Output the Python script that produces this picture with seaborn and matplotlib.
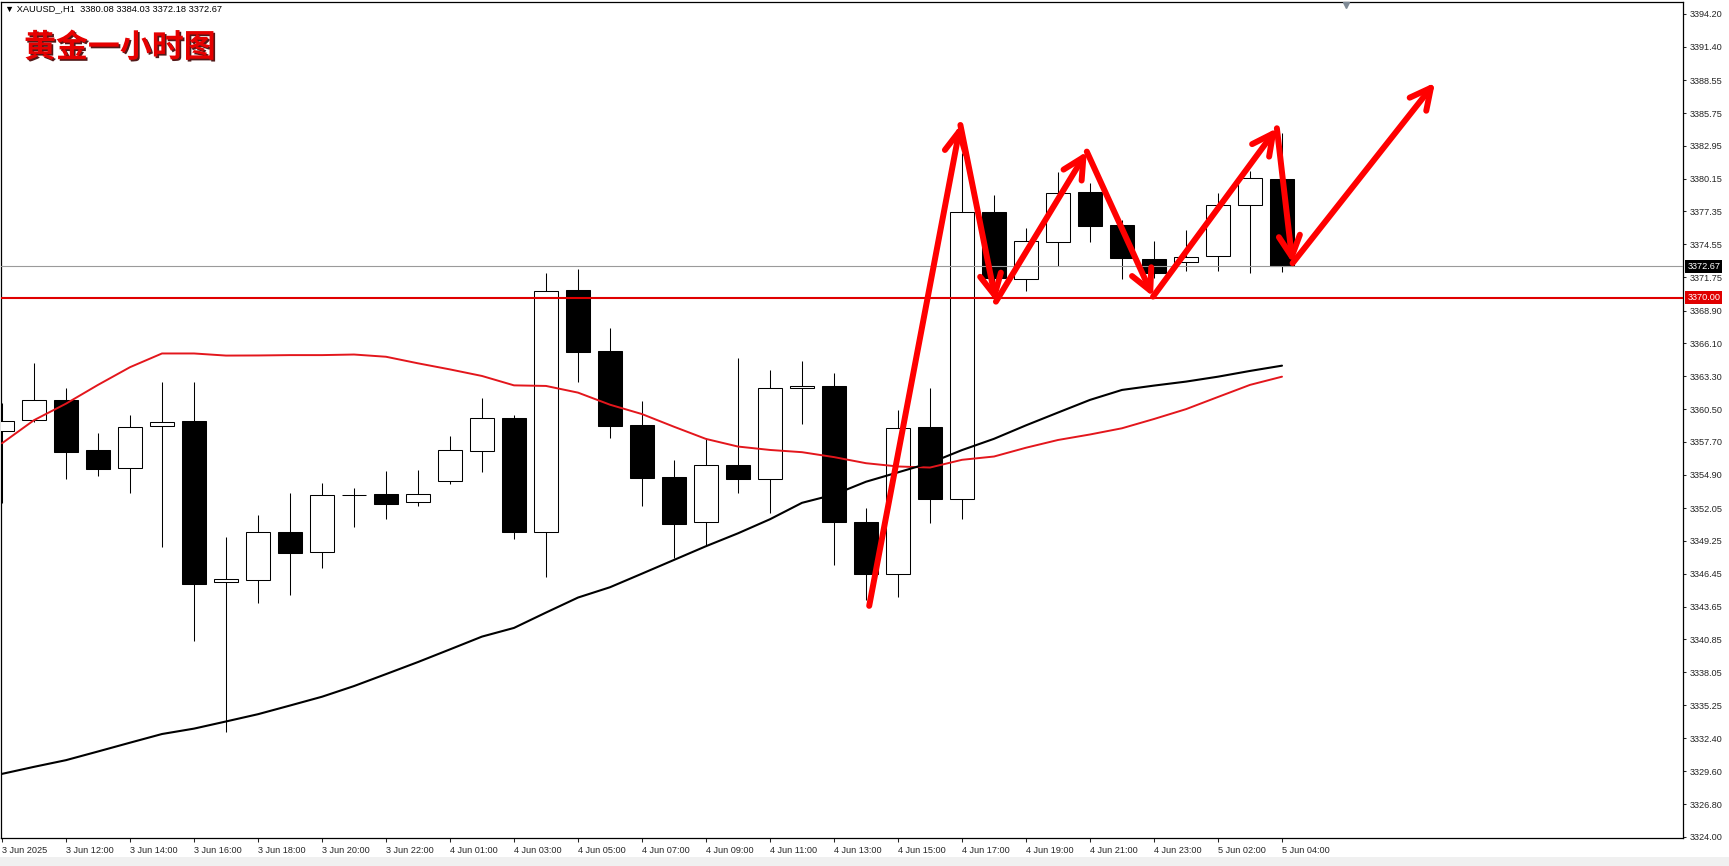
import numpy as np
import pandas as pd
import matplotlib
matplotlib.use('Agg')
import matplotlib.pyplot as plt
import matplotlib.patheffects as pe
import matplotlib.transforms as mtransforms
from matplotlib.patches import Rectangle
import seaborn as sns

# XAUUSD H1, 3 Jun 10:00 -> 5 Jun 04:00 (one bar per hour, 00:00 missing)
opens = [3358.63, 3359.54, 3361.25, 3357.01, 3355.45, 3359.03, 3359.48, 3345.73, 3345.90, 3350.00,
         3348.29, 3353.15, 3353.23, 3352.55, 3354.34, 3356.90, 3359.72, 3349.99, 3370.66, 3365.46,
         3359.14, 3354.68, 3350.84, 3355.70, 3354.56, 3362.27, 3362.47, 3350.84, 3346.41, 3359.00,
         3352.80, 3377.28, 3371.57, 3374.73, 3379.02, 3376.17, 3373.28, 3373.02, 3373.56, 3377.88,
         3380.08]
highs = [3361.00, 3364.40, 3362.27, 3358.43, 3359.97, 3362.81, 3362.81, 3349.62, 3351.47, 3353.30,
         3354.17, 3353.80, 3355.20, 3355.30, 3358.18, 3361.42, 3359.97, 3372.08, 3372.45, 3367.40,
         3361.19, 3356.16, 3358.01, 3364.83, 3363.83, 3364.60, 3363.55, 3352.04, 3360.42, 3362.27,
         3382.30, 3378.76, 3375.97, 3380.75, 3379.80, 3376.60, 3374.84, 3375.80, 3378.91, 3380.80,
         3384.03]
lows = [3352.47, 3359.40, 3354.56, 3354.82, 3353.37, 3348.76, 3340.75, 3332.98, 3343.99, 3344.60,
        3346.92, 3350.40, 3351.15, 3352.26, 3354.14, 3355.10, 3349.40, 3346.15, 3362.84, 3358.06,
        3352.20, 3347.80, 3348.90, 3353.37, 3351.60, 3359.25, 3347.20, 3344.20, 3344.45, 3350.80,
        3351.10, 3369.55, 3370.60, 3372.73, 3374.78, 3371.57, 3371.66, 3372.30, 3372.30, 3372.14,
        3372.18]
closes = [3359.51, 3361.25, 3356.87, 3355.42, 3358.95, 3359.37, 3345.61, 3345.98, 3350.00, 3348.25,
          3353.15, 3353.15, 3352.43, 3353.23, 3356.98, 3359.72, 3350.04, 3370.55, 3365.40, 3359.09,
          3354.65, 3350.73, 3355.70, 3354.56, 3362.27, 3362.47, 3350.84, 3346.41, 3358.86, 3352.80,
          3377.34, 3371.70, 3374.81, 3378.91, 3376.14, 3373.36, 3372.14, 3373.47, 3377.88, 3380.18,
          3372.67]

# moving averages
ma_red = [3357.58, 3359.55, 3360.96, 3362.56, 3364.07, 3365.24, 3365.24, 3365.06, 3365.07, 3365.10,
          3365.10, 3365.15, 3364.96, 3364.40, 3363.88, 3363.32, 3362.52, 3362.47, 3361.90, 3360.87,
          3360.07, 3358.99, 3357.95, 3357.30, 3357.01, 3356.82, 3356.40, 3355.88, 3355.60, 3355.51,
          3356.17, 3356.45, 3357.20, 3357.86, 3358.33, 3358.86, 3359.65, 3360.49, 3361.53, 3362.56,
          3363.26]
ma_black = [3329.38, 3329.98, 3330.55, 3331.29, 3332.04, 3332.78, 3333.24, 3333.85, 3334.47, 3335.21,
            3335.96, 3336.87, 3337.89, 3338.92, 3340.00, 3341.09, 3341.83, 3343.14, 3344.42, 3345.30,
            3346.46, 3347.63, 3348.80, 3349.90, 3351.10, 3352.50, 3353.20, 3354.30, 3355.10, 3355.90,
            3357.00, 3357.96, 3359.11, 3360.20, 3361.28, 3362.13, 3362.50, 3362.84, 3363.26, 3363.75,
            3364.20]

tick_idx = [0, 2, 4, 6, 8, 10, 12, 14, 16, 18, 20, 22, 24, 26, 28, 30, 32, 34, 36, 38, 40]
tick_labels = ['3 Jun 2025', '3 Jun 12:00', '3 Jun 14:00', '3 Jun 16:00', '3 Jun 18:00', '3 Jun 20:00',
               '3 Jun 22:00', '4 Jun 01:00', '4 Jun 03:00', '4 Jun 05:00', '4 Jun 07:00', '4 Jun 09:00',
               '4 Jun 11:00', '4 Jun 13:00', '4 Jun 15:00', '4 Jun 17:00', '4 Jun 19:00', '4 Jun 21:00',
               '4 Jun 23:00', '5 Jun 02:00', '5 Jun 04:00']
price_ticks = [3394.20, 3391.40, 3388.55, 3385.75, 3382.95, 3380.15, 3377.35, 3374.55, 3371.75,
               3368.90, 3366.10, 3363.30, 3360.50, 3357.70, 3354.90, 3352.05, 3349.25, 3346.45,
               3343.65, 3340.85, 3338.05, 3335.25, 3332.40, 3329.60, 3326.80, 3324.00]

support_level = 3370.00
last_price = 3372.67
shift_bar = 42

# hand-drawn red arrow path (bar index, price)
arrow_x = [27.1, 29.95, 31.06, 33.9, 35.97, 39.84, 40.33, 44.78]
arrow_y = [3343.71, 3384.73, 3369.66, 3382.46, 3370.09, 3384.45, 3372.94, 3388.34]

df = pd.DataFrame({'open': opens, 'high': highs, 'low': lows, 'close': closes,
                   'ma_red': ma_red, 'ma_black': ma_black})
df['i'] = np.arange(len(df))
df['up'] = df['close'] >= df['open']

sns.set_style('white')
plt.rcParams['font.family'] = ['Liberation Sans', 'DejaVu Sans']

W, H = 1729, 866
fig = plt.figure(figsize=(W / 100, H / 100), dpi=100)
ax = fig.add_axes([1 / W, 1 - 838 / H, 1682 / W, 836 / H])

# wicks then bodies
ax.vlines(df['i'], df['low'], df['high'], color='black', linewidth=0.75, zorder=2)
body_lo = df[['open', 'close']].min(axis=1)
body_h = (df['close'] - df['open']).abs()
ax.bar(df['i'], body_h, bottom=body_lo, width=0.75,
       color=np.where(df['up'], 'white', 'black'), edgecolor='black', linewidth=0.75, zorder=3)

sns.lineplot(data=df, x='i', y='ma_red', color='#e3161c', linewidth=1.4, ax=ax, zorder=4)
sns.lineplot(data=df, x='i', y='ma_black', color='black', linewidth=1.5, ax=ax, zorder=4)

ax.axhline(last_price, color='#9a9a9a', linewidth=0.8, zorder=5)
ax.axhline(support_level, color='#e00000', linewidth=1.5, zorder=5)

for k in range(len(arrow_x) - 1):
    ax.annotate('', xy=(arrow_x[k + 1], arrow_y[k + 1]), xytext=(arrow_x[k], arrow_y[k]),
                arrowprops=dict(arrowstyle='->,head_length=0.75,head_width=0.38', color='#ff0000',
                                lw=4.3, mutation_scale=20, shrinkA=0, shrinkB=0,
                                capstyle='round', joinstyle='round'),
                zorder=6, annotation_clip=False)

ax.set_xlim(-1 / 32, 1681 / 32)
ax.set_ylim(3323.91, 3395.22)

ax.yaxis.tick_right()
ax.set_yticks(price_ticks)
ax.set_yticklabels([f'{v:.2f}' for v in price_ticks])
ax.set_xticks(tick_idx)
ax.set_xticklabels(tick_labels, ha='left')
ax.tick_params(axis='y', direction='out', length=2.5, width=0.75, pad=2.5, labelsize=6.6, right=True, left=False)
ax.tick_params(axis='x', direction='out', length=3, width=0.75, pad=2.5, labelsize=6.6, bottom=True)
ax.set_xlabel('')
ax.set_ylabel('')
for s in ax.spines.values():
    s.set_color('black')
    s.set_linewidth(0.9)

# price boxes on the right scale
blend = mtransforms.blended_transform_factory(ax.transAxes, ax.transData)
ax.text(1.0025, last_price, f'{last_price:.2f}', transform=blend, ha='left', va='center',
        fontsize=6.6, color='white', zorder=10,
        bbox=dict(boxstyle='square,pad=0.2', fc='black', ec='none'))
ax.text(1.0025, support_level, f'{support_level:.2f}', transform=blend, ha='left', va='center',
        fontsize=6.6, color='white', zorder=10,
        bbox=dict(boxstyle='square,pad=0.2', fc='#e00000', ec='none'))

# chart shift marker
shift_tr = mtransforms.blended_transform_factory(ax.transData, ax.transAxes)
ax.plot([shift_bar], [0.996], marker='v', markersize=5, color='#7f8a95', transform=shift_tr,
        clip_on=False, zorder=10)

fig.text(5 / W, 1 - 9 / H, '\u25bc XAUUSD_,H1  3380.08 3384.03 3372.18 3372.67',
         fontsize=6.7, color='black', ha='left', va='center')
fig.text(24 / W, 1 - 48 / H, '黄金一小时图', fontsize=23, fontweight='bold', color='#e60000',
         family=['Noto Sans CJK SC'], ha='left', va='center',
         path_effects=[pe.withSimplePatchShadow(offset=(1.2, -1.2), shadow_rgbFace='#400000', alpha=0.9)])

fig.patches.append(Rectangle((0, 0), 1, 9 / H, transform=fig.transFigure, facecolor='#f0f0f0',
                             edgecolor='none', zorder=-1))

fig.savefig('out.png', dpi=100)
plt.close(fig)
